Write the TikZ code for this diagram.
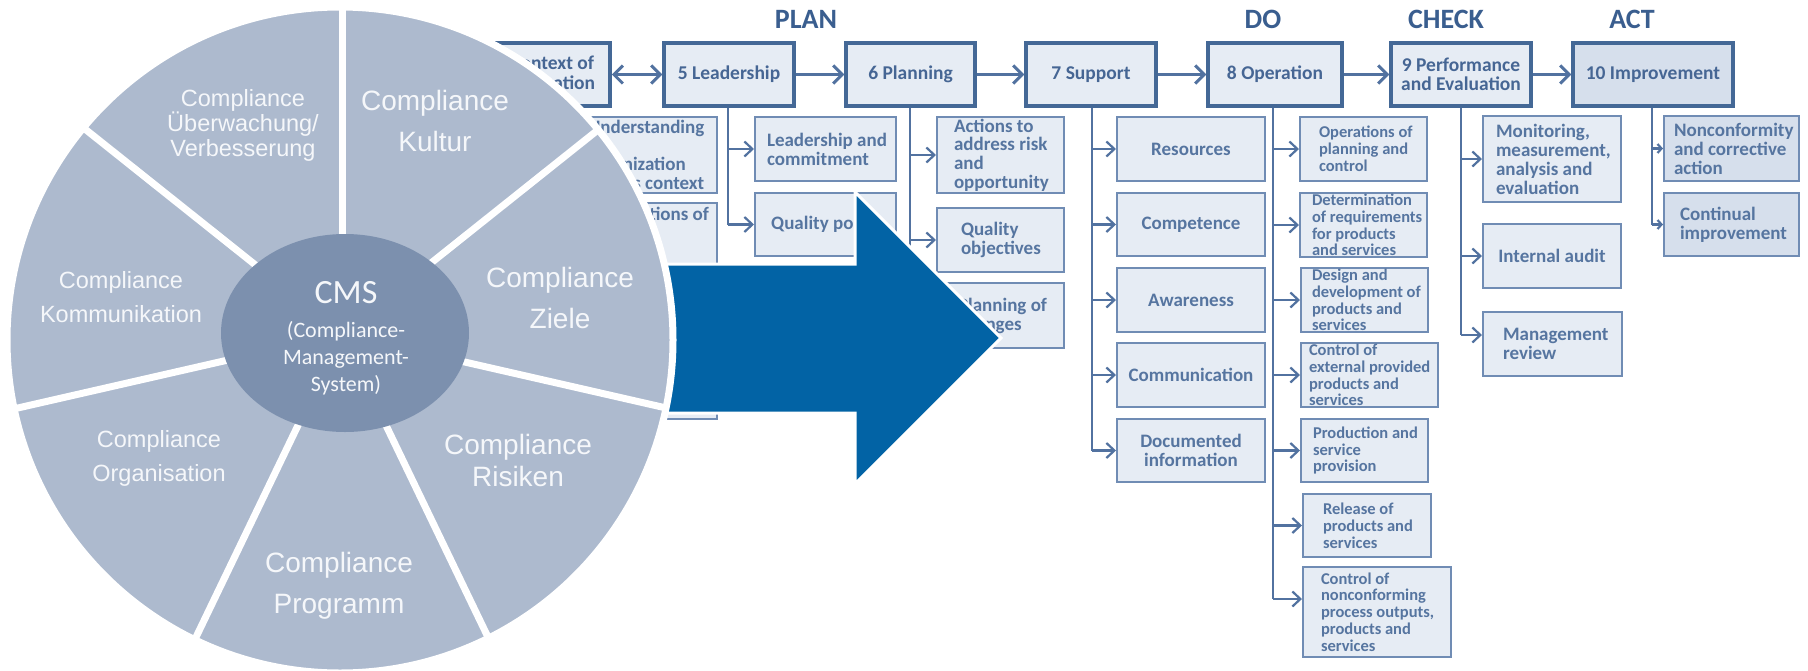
\documentclass[tikz,border=0pt]{standalone}
\usepackage{fontspec}
\setmainfont{Carlito}
\newfontfamily\arialf{Liberation Sans}
\usetikzlibrary{arrows.meta,shapes.geometric}
\definecolor{boxline}{RGB}{68,104,150}
\definecolor{subline}{RGB}{112,140,180}
\definecolor{boxfill}{RGB}{230,236,244}
\definecolor{actfill}{RGB}{214,223,236}
\definecolor{toptext}{RGB}{70,102,148}
\definecolor{subtext}{RGB}{86,117,160}
\definecolor{hdrtext}{RGB}{58,94,143}
\definecolor{conn}{RGB}{82,114,160}
\definecolor{bigblue}{RGB}{2,99,165}
\definecolor{wheel}{RGB}{173,186,206}
\definecolor{hubc}{RGB}{124,144,174}
\definecolor{wtext}{RGB}{245,247,250}
% box from corners, centred text
\newcommand\bx[7]{%
  \pgfmathsetmacro\bxcx{(#2+#4)/2}\pgfmathsetmacro\bxcy{(#3+#5)/2}%
  \pgfmathsetmacro\bxw{#4-#2}\pgfmathsetmacro\bxh{#5-#3}%
  \node[#6,minimum width=\bxw pt,minimum height=\bxh pt,align=center] (#1) at (\bxcx,\bxcy) {#7};}
% box from corners, left-aligned text at an inset
\newcommand\lbx[8]{%
  \pgfmathsetmacro\bxcx{(#2+#4)/2}\pgfmathsetmacro\bxcy{(#3+#5)/2}%
  \pgfmathsetmacro\bxw{#4-#2}\pgfmathsetmacro\bxh{#5-#3}\pgfmathsetmacro\bxtx{#2+#7}%
  \node[#6,minimum width=\bxw pt,minimum height=\bxh pt] (#1) at (\bxcx,\bxcy) {};
  \node[#6,draw=none,fill=none,align=left,anchor=west] (#1t) at (\bxtx,\bxcy) {#8};}
\begin{document}
\begin{tikzpicture}[x=1pt,y=-1pt,
  topbox/.style={draw=boxline,line width=3.5pt,fill=boxfill,text=toptext,
    font=\bfseries\fontsize{19.5}{19.5}\selectfont,inner sep=0pt},
  subbox/.style={draw=subline,line width=2pt,fill=boxfill,text=subtext,
    font=\bfseries\fontsize{19}{19}\selectfont,inner sep=0pt},
  opbox/.style={subbox,font=\bfseries\fontsize{16.5}{16.8}\selectfont},
  hdr/.style={text=hdrtext,font=\bfseries\fontsize{28}{28}\selectfont,inner sep=0pt},
  topconn/.style={draw=conn,line width=3pt,-{Straight Barb[length=9pt,width=18pt]}},
  trunk/.style={draw=conn,line width=2.5pt},
  subarr/.style={draw=conn,line width=2.2pt,-{Straight Barb[length=8pt,width=15pt]}},
  smallarr/.style={draw=conn,line width=2.2pt,-{Straight Barb[length=4pt,width=9pt]}},
  wtxt/.style={text=wtext,align=center,inner sep=0pt},
]
\useasboundingbox (0,0) rectangle (1808,670);
\fill[white] (0,0) rectangle (1808,670);

% headers
\node[hdr] (hplan) at (806,19) {PLAN};
\node[hdr] (hdo) at (1263,19) {DO};
\node[hdr] (hcheck) at (1446,19) {CHECK};
\node[hdr] (hact) at (1632,19) {ACT};

% top row
\bx{t4}{480}{43}{610}{106}{topbox}{4 Context of\\organization}
\bx{t5}{664}{43}{794}{106}{topbox}{5 Leadership}
\bx{t6}{846}{43}{975}{106}{topbox}{6 Planning}
\bx{t7}{1026}{43}{1156}{106}{topbox}{7 Support}
\bx{t8}{1208}{43}{1342}{106}{topbox}{8 Operation}
\bx{t9}{1391}{43}{1531}{106}{topbox,font=\bfseries\fontsize{19.5}{18.5}\selectfont}{9 Performance\\and Evaluation}
\bx{t10}{1573}{43}{1733}{106}{topbox,fill=actfill}{10 Improvement}

\draw[topconn,{Straight Barb[length=9pt,width=18pt]}-{Straight Barb[length=9pt,width=18pt]}] (t4.east) -- (t5.west);
\draw[topconn] (t5.east) -- (t6.west);
\draw[topconn] (t6.east) -- (t7.west);
\draw[topconn] (t7.east) -- (t8.west);
\draw[topconn] (t8.east) -- (t9.west);
\draw[topconn] (t9.east) -- (t10.west);

% column 4
\lbx{s41}{575}{117}{717}{193}{subbox,font=\bfseries\fontsize{19}{18.7}\selectfont}{12}{Understanding\\the\\organization\\and its context}
\bx{s42}{575}{203}{717}{419}{subbox}{}
\node[subbox,draw=none,fill=none,anchor=north west] (s42t) at (587,206) {Expectations of};
\coordinate (k4) at (545,225);
\draw[trunk] (t4.south -| k4) -- (k4);
\draw[subarr] (k4 |- s41.west) -- (s41.west);
\draw[subarr] (k4) -- (k4 -| s42.west);

% column 5
\lbx{s51}{755}{117}{896}{181}{subbox}{11}{Leadership and\\commitment}
\bx{s52}{755}{193}{896}{256}{subbox}{Quality policy}
\coordinate (k5) at (728,224.5);
\draw[trunk] (t5.south -| k5) -- (k5);
\draw[subarr] (k5 |- s51.west) -- (s51.west);
\draw[subarr] (k5) -- (s52.west);

% column 6
\lbx{s61}{937}{117}{1064}{193}{subbox,font=\bfseries\fontsize{19}{18.7}\selectfont}{16}{Actions to\\address risk\\and\\opportunity}
\lbx{s62}{937}{208}{1064}{272}{subbox}{23}{Quality\\objectives}
\lbx{s63}{937}{283}{1064}{348}{subbox}{20}{Planning of\\changes}
\coordinate (k6) at (910,315.5);
\draw[trunk] (t6.south -| k6) -- (k6);
\draw[subarr] (k6 |- s61.west) -- (s61.west);
\draw[subarr] (k6 |- s62.west) -- (s62.west);
\draw[subarr] (k6) -- (s63.west);

% column 7
\bx{s71}{1117}{117}{1265}{181}{subbox}{Resources}
\bx{s72}{1117}{193}{1265}{256}{subbox}{Competence}
\bx{s73}{1117}{268}{1265}{332}{subbox}{Awareness}
\bx{s74}{1117}{343}{1265}{407}{subbox}{Communication}
\bx{s75}{1117}{419}{1265}{482}{subbox}{Documented\\information}
\coordinate (k7) at (1092,450.5);
\draw[trunk] (t7.south -| k7) -- (k7);
\foreach \n in {s71,s72,s73,s74}{\draw[subarr] (k7 |- \n.west) -- (\n.west);}
\draw[subarr] (k7) -- (s75.west);

% column 8
\lbx{s81}{1300}{117}{1427}{181}{opbox}{18}{Operations of\\planning and\\control}
\lbx{s82}{1300}{193}{1427}{257}{opbox}{11}{Determination\\of requirements\\for products\\and services}
\lbx{s83}{1301}{268}{1428}{332}{opbox}{10}{Design and\\development of\\products and\\services}
\lbx{s84}{1301}{343}{1438}{407}{opbox}{7}{Control of\\external provided\\products and\\services}
\lbx{s85}{1301}{419}{1428}{482}{opbox}{11}{Production and\\service\\provision}
\lbx{s86}{1303}{494}{1431}{557}{opbox}{19}{Release of\\products and\\services}
\lbx{s87}{1303}{567}{1451}{657}{opbox}{17}{Control of\\nonconforming\\process outputs,\\products and\\services}
\coordinate (k8) at (1273,599);
\draw[trunk] (t8.south -| k8) -- (k8);
\foreach \n in {s81,s82,s83,s84,s85,s86}{\draw[subarr] (k8 |- \n.west) -- (\n.west);}
\draw[subarr] (k8) -- (k8 -| s87.west);

% column 9
\lbx{s91}{1483}{116}{1621}{202}{subbox}{12}{Monitoring,\\measurement,\\analysis and\\evaluation}
\bx{s92}{1483}{224}{1621}{288}{subbox}{Internal audit}
\lbx{s93}{1483}{312}{1622}{376}{subbox}{19}{Management\\review}
\coordinate (k9) at (1461,335);
\draw[trunk] (t9.south -| k9) -- (k9);
\draw[subarr] (k9 |- s91.west) -- (s91.west);
\draw[subarr] (k9 |- s92.west) -- (s92.west);
\draw[subarr] (k9) -- (k9 -| s93.west);

% column 10
\lbx{s101}{1664}{116}{1799}{181}{subbox,fill=actfill}{9}{Nonconformity\\and corrective\\action}
\lbx{s102}{1664}{193}{1799}{256}{subbox,fill=actfill}{15}{Continual\\improvement}
\coordinate (k10) at (1652,224.5);
\draw[trunk] (t10.south -| k10) -- (k10);
\draw[smallarr] (k10 |- s101.west) -- (s101.west);
\draw[smallarr] (k10) -- (s102.west);

% big arrow
\draw[fill=bigblue,draw=white,line width=3pt,line join=miter]
  (560,264) -- (855,264) -- (855,192) -- (1001,338) -- (855,484) -- (855,413) -- (560,413) -- cycle;

% wheel
\coordinate (wc) at (340,340);
\coordinate (hubpt) at (342,334);
\fill[wheel] (wc) circle[radius=333pt];
\begin{scope}
  \clip (wc) circle[radius=333pt];
  \foreach \k in {0,...,6}{\draw[white,line width=7pt] (hubpt) -- ++({90-\k*360/7}:400pt);}
\end{scope}
\draw[white,line width=7pt] (wc) circle[radius=333pt];
\node[ellipse,fill=hubc,minimum width=248pt,minimum height=198pt,inner sep=0pt] (cms) at (345,333) {};
\node[wtxt,font=\fontsize{22}{27}\selectfont] (cmst) at (346,338)
  {{\fontsize{34}{34}\selectfont CMS}\\[7pt](Compliance-\\Management-\\System)};

\node[wtxt,font=\arialf\fontsize{23.5}{24.5}\selectfont] (wueb) at (243,125) {Compliance\\Überwachung/\\Verbesserung};
\node[wtxt,font=\arialf\fontsize{28}{41}\selectfont] (wkul) at (435,121) {Compliance\\Kultur};
\node[wtxt,font=\arialf\fontsize{28}{41}\selectfont] (wzie) at (560,298) {Compliance\\Ziele};
\node[wtxt,font=\arialf\fontsize{23.5}{34}\selectfont] (wkom) at (121,297) {Compliance\\Kommunikation};
\node[wtxt,font=\arialf\fontsize{23.5}{34}\selectfont] (worg) at (159,458) {Compliance\\Organisation};
\node[wtxt,font=\arialf\fontsize{28}{32}\selectfont] (wris) at (518,460) {Compliance\\Risiken};
\node[wtxt,font=\arialf\fontsize{28}{41}\selectfont] (wpro) at (339,586) {Compliance\\Programm};
\end{tikzpicture}
\end{document}
